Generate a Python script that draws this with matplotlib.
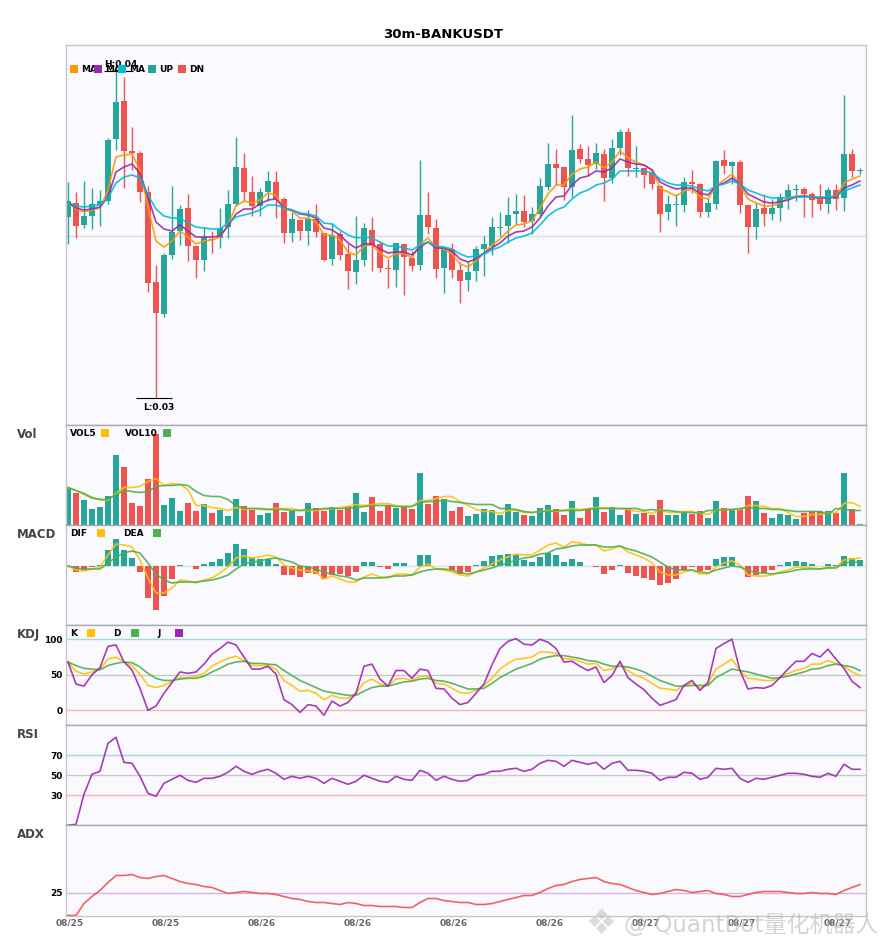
import numpy as np
import matplotlib
matplotlib.use('Agg')
import matplotlib.pyplot as plt
from matplotlib.patches import Rectangle

plt.rcParams['font.family'] = ['DejaVu Sans', 'Noto Sans CJK SC']

# candle values, relative price scale (no axis labels on the reference)
opens = [207,221,199,208,219,223,285,323,273,271,
         232,142,110,169,193,216,178,164,185,186,
         197,220,256,232,218,232,242,225,191,204,
         193,205,191,165,190,170,152,164,194,180,
         156,154,180,166,159,209,196,156,175,154,
         144,153,175,178,196.5,198,210,213,203,210,
         237,260,257,237,275,265,260,270,246,276,
         292,255,256,251,238,212,219.5,219,242,240,
         212,220,264,258,262,219,197,216,210,216,
         227,234.5,235,230,225,220,234,226,270,253.5]
closes = [223,198,208,220,223,284,322,273,271,232,
          141,111,169,192,215,178,164,187,184,196,
          220,257,232,218,232,243,225,191,205,193,
          205,192,164,189,169,153,164,196,179,156,
          155,181,167,158,209,197,155,175,154,143,
          152,175,180,197,197,209,213,202,210,238,
          260,256,237,274,265,259,271,246,276,292,
          256,256,249,240,210,220,220,242,240,212,
          221,263,258,262,219,197,215,210,216,227,
          234,235,230,224,220,234,225,270,253,254]
highs = [242,232,243,236,234,286,354,347,297,273,
         238,159,171,238,219,230,178,197,193,216,
         234,287,271,248,236,253,253,227,212,204,
         214,220,191,201,193,180,208,201,207,183,
         165,181,180,173,264,232,205,176,181,162,
         162,178,188,207,212,227,230,229,217,246,
         281,275,257,309,280,278,281,275,285,295,
         296,278,256,255,239,229,230,247,254,241,
         226,264,274,263,264,219,222,230,225,231,
         240,240,237,232,240,237,240,329,275,256]
lows = [180,186,196,195,198,220,274,236,254,222,
        132,26,107,165,179,163,146,153,171,176,
        186,218,223,208,208,223,206,181,182,184,
        179,187,163,159,164,135,140,158,153,152,
        136,137,129,153,154,190,146,131,146,121,
        133,143,148,169,188,181,200,197,190,208,
        234,239,224,227,261,248,255,223,241,269,
        248,247,236,235,192,204,198,212,231,207,
        207,215,250,240,211,171,185,198,204,203,
        215,223,207,207,214,211,214,213,247,250]

ma_fast = [222,215,212,214,216,234,267,269,270,254,
           217,183,177,183,193,187,180,183,184,187,
           199,218,223,221,224,231,229,215,213,206,
           206,202,189,189,184,172,169,178,179,171,
           166,170,171,166,180,186,176,175,170,160,
           157,163,171,179,185,193,199,200,203,216,
           230,239,239,250,255,257,262,256,262,273,
           266,262,259,254,236,232,228,233,235,227,
           225,238,244,250,239,225,221,218,218,221,
           226,228,228,227,225,227,227,241,245,248]
ma_mid = [222,216,214,215,217,227,252,257,260,251,
          227,202,195,193,199,193,187,187,187,188,
          198,210,215,215,220,224,225,216,214,210,
          209,206,196,194,189,181,176,180,180,175,
          171,172,172,169,177,182,176,176,173,165,
          162,165,171,176,181,188,192,193,197,206,
          218,227,228,239,246,248,253,252,256,265,
          262,260,259,254,242,238,235,236,236,231,
          229,238,241,246,240,230,226,222,221,222,
          224,227,228,227,226,226,227,236,239,243]
ma_slow = [222,218,217,218,219,226,241,247,249,246,
           229,215,208,206,206,201,197,196,195,195,
           201,207,209,211,214,219,219,216,214,211,
           210,208,201,200,194,189,186,187,186,182,
           178,178,176,174,179,182,178,177,175,170,
           167,168,170,174,177,182,186,188,191,199,
           208,214,217,225,231,234,239,241,245,253,
           253,253,253,251,245,241,239,239,238,235,
           233,238,240,243,240,234,231,228,226,226,
           226,227,227,227,227,227,228,233,236,239]

# volume panel
volume = [37,32,25,16,18,29,70,58,22,19,
          46,91,20,27,14,22,14,21,12,15,
          9,26,19,15,10,12,22,13,14,9,
          22,17,14,18,15,19,32,13,28,14,
          20,17,19,16,52,21,29,26,14,18,
          9,11,16,15,10,21,13,10,9,17,
          20,16,10,24,7,17,28,13,18,10,
          17,11,12,10,25,10,10,14,11,14,
          7,24,17,15,16,29,24,12,7,11,
          10,6,12,14,14,14,12,52,16,1]
vol5 = [37,34,30,26,25,24,31,37,37,38,
        43,46,39,41,40,35,19,19,17,16,
        14,17,15,16,15,15,16,16,16,14,
        14,14,15,16,17,18,20,19,20,21,
        21,19,18,18,24,24,26,28,28,23,
        19,15,13,13,11,14,14,12,12,13,
        14,13,14,16,15,16,17,17,16,16,
        15,13,13,11,15,12,12,13,13,11,
        10,14,15,15,15,19,19,18,16,16,
        12,8,8,10,10,11,12,21,22,18]
vol10 = [37,34,31,27,25,25,30,34,33,32,
         33,38,39,39,40,39,33,29,28,28,
         25,19,16,16,16,15,15,15,14,14,
         15,15,16,16,16,16,17,18,19,19,
         19,18,18,18,22,23,23,24,23,22,
         21,20,20,20,16,16,15,13,12,13,
         13,14,14,14,14,15,16,16,16,16,
         16,16,14,15,14,14,13,12,12,11,
         14,14,15,15,16,17,16,16,15,15,
         14,13,13,13,13,10,16,15,14,14]

# macd panel
macd_hist = [0,-6,-4,-1,1,16,27,16,8,-6,
             -32,-44,-30,-13,1,0,-3,2,4,7,
             13,22,17,9,7,7,2,-9,-9,-11,
             -7,-8,-13,-9,-8,-10,-6,4,4,-1,
             -3,3,3,0,11,11,0,0,-4,-8,
             -6,1,5,10,11,12,11,6,4,9,
             13,11,4,7,4,0,-1,-8,-4,1,
             -7,-10,-12,-14,-19,-17,-13,-4,-1,-5,
             -4,7,9,9,0,-11,-9,-7,-4,1,
             4,5,4,2,0,2,1,10,8,6]
dif = [0,-4,-5,-3,-1,11,22,21,19,6,
       -12,-27,-27,-22,-14,-15,-17,-14,-12,-7,
       -1,8,10,8,9,11,9,1,-2,-4,
       -5,-6,-13,-10,-13,-16,-16,-11,-8,-11,
       -12,-8,-8,-9,-1,2,-3,-4,-6,-9,
       -10,-6,-2,2,6,9,12,11,11,16,
       21,23,19,24,23,21,21,15,17,20,
       14,11,8,3,-6,-9,-9,-6,-4,-8,
       -8,-1,3,5,1,-9,-10,-10,-9,-6,
       -4,-1,-1,-2,-3,-1,-1,6,7,8]
dea = [0,-2,-3,-3,-3,3,9,13,15,13,
       3,-8,-14,-17,-16,-16,-16,-15,-14,-12,
       -9,-3,2,4,5,7,8,6,4,0,
       -1,-3,-6,-8,-10,-11,-14,-12,-12,-12,
       -11,-10,-10,-9,-6,-4,-3,-3,-4,-7,
       -8,-6,-4,-2,1,3,6,8,9,12,
       13,17,18,20,21,21,21,19,19,20,
       17,15,12,9,4,-1,-4,-4,-4,-6,
       -7,-4,-2,0,-1,-4,-7,-7,-8,-7,
       -6,-4,-3,-3,-3,-2,-2,3,4,4]

# kdj panel
kdj_k = [68,55,51,54,58,72,75,68,63,51,
         35,32,35,41,46,46,48,52,62,68,
         73,76,70,63,63,63,58,42,35,27,
         28,24,15,21,17,17,24,39,44,37,
         34,44,45,42,48,48,38,37,31,25,
         24,28,35,45,58,66,72,73,75,82,
         82,80,73,72,69,65,66,56,58,66,
         56,49,45,38,31,30,28,35,38,31,
         38,58,65,72,55,45,44,42,42,46,
         52,56,59,65,65,70,66,62,54,49]
kdj_d = [68,63,59,58,57,63,66,68,67,61,
         52,45,42,42,44,45,45,48,54,59,
         65,68,69,66,66,65,64,56,49,42,
         37,32,27,25,23,21,21,27,32,34,
         34,37,40,41,44,45,42,41,38,34,
         30,30,31,38,46,52,58,62,66,72,
         75,77,77,75,73,70,69,65,62,62,
         61,58,54,48,42,38,34,34,35,35,
         35,46,52,58,56,54,51,48,45,46,
         48,51,54,58,59,63,65,63,61,56]
kdj_j = [68,37,34,50,60,90,92,68,57,31,
         0,6,24,39,54,52,54,65,79,87,
         96,92,75,58,58,62,51,15,8,-3,
         8,6,-7,13,6,11,24,62,65,44,
         34,56,56,45,58,56,31,30,17,8,
         11,24,37,64,87,97,101,93,92,100,
         96,87,68,69,62,56,61,39,49,69,
         46,37,29,17,7,11,15,35,42,28,
         39,87,94,100,56,30,32,31,35,46,
         58,69,69,80,75,86,72,59,41,32]

# rsi and adx panels
rsi = [0,1,31,51,54,82,88,63,62,49,
       32,29,42,46,50,45,43,47,47,49,
       53,59,54,51,54,56,52,46,49,47,
       49,47,42,47,44,41,44,50,47,44,
       43,49,46,45,55,52,45,49,46,44,
       45,50,51,54,54,56,57,54,56,62,
       65,64,59,65,63,61,63,56,62,64,
       55,55,54,52,45,48,48,53,52,46,
       48,57,56,57,47,43,47,46,48,50,
       52,52,51,49,48,52,49,61,56,56]
adx = [2,2,14,21,27,35,42,42,43,40,
       39,41,42,39,36,34,33,31,30,27,
       24,25,26,25,24,24,23,21,19,18,
       16,15,15,14,13,15,14,12,12,11,
       11,11,10,10,15,19,19,17,16,15,
       15,13,13,14,16,18,20,22,22,25,
       29,32,33,36,38,39,40,36,34,33,
       30,27,25,23,24,26,28,27,25,26,
       27,24,23,21,21,23,25,26,26,26,
       25,24,24,25,24,24,23,27,30,33]

date_labels = ['08/25','08/25','08/26','08/26','08/26','08/26','08/27','08/27','08/27']

UP = '#26a69a'
DN = '#ef5350'
BG = '#fafafe'
EDGE = '#c6c6cc'
DARK_EDGE = '#aaaab0'
W, H = 885, 950

fig = plt.figure(figsize=(W/100, H/100), dpi=100)
idx = np.arange(100)


def panel(top, bottom, ymin, ymax, top_edge=DARK_EDGE, bottom_edge=DARK_EDGE):
    ax = fig.add_axes([65.5/W, 1-bottom/H, 800/W, (bottom-top)/H])
    ax.set_facecolor(BG)
    ax.set_xlim(-0.31, 99.69)
    ax.set_ylim(ymin, ymax)
    ax.set_xticks([])
    ax.set_yticks([])
    for s in ax.spines.values():
        s.set_color(EDGE)
        s.set_linewidth(1)
    ax.spines['top'].set_color(top_edge)
    ax.spines['bottom'].set_color(bottom_edge)
    ax.tick_params(length=0, labelsize=6.5, pad=2)
    return ax


def label(x, y, txt, size=6.5, color='black'):
    fig.text(x/W, 1-y/H, txt, fontsize=size, fontweight='bold', color=color,
             ha='left', va='center')


def box(x, y, color):
    fig.add_artist(Rectangle((x/W, 1-(y+8)/H), 8/W, 8/H, color=color, lw=0,
                             transform=fig.transFigure, zorder=5))


def line(ax, vals, color):
    ax.plot(idx, vals, color=color, lw=1.2, alpha=0.9, zorder=3)


colors = [UP if c >= o else DN for o, c in zip(opens, closes)]

# main candles
ax_main = panel(45, 424.5, -0.5, 379, top_edge=EDGE)
ax_main.axhline(188.5, color='#dddddf', lw=1, zorder=1)
ax_main.vlines(idx, lows, highs, colors=colors, lw=1.0, zorder=2)
ax_main.bar(idx, np.abs(np.array(closes)-np.array(opens)),
            bottom=np.minimum(opens, closes), width=0.75, color=colors, zorder=2)
line(ax_main, ma_fast, '#ff9800')
line(ax_main, ma_mid, '#9c27b0')
line(ax_main, ma_slow, '#00bcd4')
ax_main.hlines(max(highs)-1, 4.5, 8.1, color='black', lw=0.8, zorder=4)
ax_main.hlines(min(lows), 8.5, 13, color='black', lw=0.8, zorder=4)
ax_main.text(6.6, max(highs)+1, 'H:0.04', fontsize=6.5, fontweight='bold', ha='center', va='bottom', zorder=4)
ax_main.text(11.4, min(lows)-9, 'L:0.03', fontsize=6.5, fontweight='bold', ha='center', va='center', zorder=4)

# volume
ax_vol = panel(424.5, 524.5, 0, 100)
ax_vol.bar(idx, volume, width=0.75, color=colors, zorder=2)
line(ax_vol, vol5, '#ffc107')
line(ax_vol, vol10, '#4caf50')

# macd
ax_macd = panel(524.5, 624.5, -58.5, 41.5)
ax_macd.axhline(0, color='#dddddf', lw=1, zorder=1)
ax_macd.bar(idx, macd_hist, width=0.75, color=[UP if v > 0 else DN for v in macd_hist], zorder=2)
line(ax_macd, dif, '#ffc107')
line(ax_macd, dea, '#4caf50')

# kdj
ax_kdj = panel(624.5, 724.5, -20, 120.8)
ax_kdj.axhline(100, color=UP, alpha=0.4, lw=1)
ax_kdj.axhline(50, color='#c8c8c8', lw=1)
ax_kdj.axhline(0, color=DN, alpha=0.4, lw=1)
line(ax_kdj, kdj_k, '#ffc107')
line(ax_kdj, kdj_d, '#4caf50')
line(ax_kdj, kdj_j, '#9c27b0')
ax_kdj.set_yticks([0, 50, 100])
ax_kdj.set_yticklabels(['0', '50', '100'], fontweight='bold')

# rsi
ax_rsi = panel(724.5, 824.5, 0.8, 100.8)
ax_rsi.axhline(70, color=UP, alpha=0.4, lw=1)
ax_rsi.axhline(50, color='#c8c8c8', lw=1)
ax_rsi.axhline(30, color=DN, alpha=0.4, lw=1)
line(ax_rsi, rsi, '#9c27b0')
ax_rsi.set_yticks([30, 50, 70])
ax_rsi.set_yticklabels(['30', '50', '70'], fontweight='bold')

# adx
ax_adx = panel(824.5, 915.5, 2, 93, bottom_edge=EDGE)
ax_adx.axhline(25, color='#9c27b0', alpha=0.35, lw=1)
line(ax_adx, adx, '#ef5350')
ax_adx.set_yticks([25])
ax_adx.set_yticklabels(['25'], fontweight='bold')
ax_adx.set_xticks(np.arange(0, 100, 12) + 0.25)
ax_adx.set_xticklabels(date_labels, fontweight='bold', color='#666666')
ax_adx.tick_params(axis='x', length=0, pad=2)

# titles and legends
fig.text(443/W, 1-34/H, '30m-BANKUSDT', fontsize=9.5, fontweight='bold', ha='center', va='center')
for name, y in zip(['Vol', 'MACD', 'KDJ', 'RSI', 'ADX'], [434.5, 534.5, 634.5, 734.5, 834.5]):
    label(17, y, name, size=8.5, color='#444444')

for x, txt, sx, c in [(81, 'MA', 70, '#ff9800'), (105, 'MA', 94, '#9c27b0'), (129, 'MA', 118, '#00bcd4'),
                      (159, 'UP', 148, UP), (189, 'DN', 178, DN)]:
    label(x, 69, txt)
    box(sx, 65, c)
for x, txt, sx, c in [(70, 'VOL5', 101, '#ffc107'), (125, 'VOL10', 163, '#4caf50')]:
    label(x, 433.5, txt)
    box(sx, 429, c)
for x, txt, sx, c in [(70, 'DIF', 97, '#ffc107'), (123, 'DEA', 153, '#4caf50')]:
    label(x, 533.5, txt)
    box(sx, 529, c)
for x, txt, sx, c in [(70, 'K', 87, '#ffc107'), (113, 'D', 131, '#4caf50'), (157, 'J', 175, '#9c27b0')]:
    label(x, 633.5, txt)
    box(sx, 629, c)

# watermark
fig.text(601/W, 1-924/H, '\u2756', fontsize=25, color='#c4c4c4', alpha=0.6, ha='center', va='center', zorder=10)
fig.text(878/W, 1-925/H, '@ QuantBot量化机器人', fontsize=16.6, color='#b8b8b8', alpha=0.6,
         ha='right', va='center', zorder=10)

fig.savefig('out.png', dpi=100, facecolor='white')
